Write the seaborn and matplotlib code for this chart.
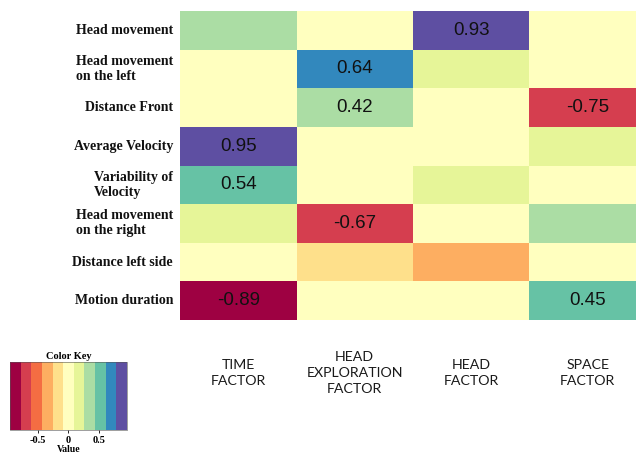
import numpy as np
import pandas as pd
import matplotlib
matplotlib.use("Agg")
import matplotlib.pyplot as plt
import seaborn as sns

# Factor loadings of the behavioural variables
variables = [
    "Head movement",
    "Head movement\non the left",
    "Distance Front",
    "Average Velocity",
    "Variability of\nVelocity",
    "Head movement\non the right",
    "Distance left side",
    "Motion duration",
]
factors = ["TIME\nFACTOR", "HEAD\nEXPLORATION\nFACTOR", "HEAD\nFACTOR", "SPACE\nFACTOR"]

time_factor = [0.35, 0.05, 0.01, 0.95, 0.54, 0.16, -0.05, -0.89]
head_exploration_factor = [0.03, 0.64, 0.42, 0.04, 0.02, -0.67, -0.18, 0.07]
head_factor = [0.93, 0.17, 0.06, -0.03, 0.18, 0.05, -0.35, -0.04]
space_factor = [0.02, -0.02, -0.75, 0.15, 0.06, 0.33, 0.03, 0.45]

# Only salient loadings are printed in the cells
label_threshold = 0.4

loadings = pd.DataFrame(
    np.column_stack([time_factor, head_exploration_factor, head_factor, space_factor]),
    index=variables,
    columns=factors,
)
annot = loadings.map(lambda v: f"{v:.2f}" if abs(v) >= label_threshold else "")

# 11-step ColorBrewer Spectral key
cmap = matplotlib.colormaps["Spectral"].resampled(11)

fig = plt.figure(figsize=(6.36, 4.55), dpi=100)
ax = fig.add_axes([180 / 636, 1 - 320 / 455, 466 / 636, 309 / 455])
cax = fig.add_axes([10 / 636, 1 - 430 / 455, 117 / 636, 68 / 455])

sns.heatmap(
    loadings,
    ax=ax,
    cmap=cmap,
    vmin=-0.95,
    vmax=0.95,
    annot=annot,
    fmt="",
    annot_kws={"fontsize": 13.5, "family": "Liberation Sans", "color": "#111111"},
    cbar_ax=cax,
    cbar_kws={"orientation": "horizontal", "ticks": [-0.5, 0, 0.5]},
)

# Row labels: bold serif, right-aligned block with left-aligned lines
ax.set_yticklabels(variables, rotation=0)
ax.tick_params(axis="y", length=0, pad=5)
for lbl in ax.get_yticklabels():
    lbl.set_fontfamily("Liberation Serif")
    lbl.set_fontweight("bold")
    lbl.set_fontsize(10)
    lbl.set_multialignment("left")
    lbl.set_color("#111111")

# Column labels below the grid
ax.set_xticklabels(factors, rotation=0)
ax.tick_params(axis="x", length=0, pad=38)
for lbl in ax.get_xticklabels():
    lbl.set_fontfamily("Lato")
    lbl.set_fontsize(10.2)
    lbl.set_verticalalignment("center")
    lbl.set_linespacing(1.4)
    lbl.set_color("#1a1a1a")
ax.set_xlabel("")
ax.set_ylabel("")

# Colour key
cax.set_title("Color Key", fontsize=7.5, fontweight="bold", family="Liberation Serif", pad=2)
cax.set_xticklabels(["-0.5", "0", "0.5"])
cax.tick_params(axis="x", length=2.5, width=0.6, pad=1.5, labelsize=7.5)
for lbl in cax.get_xticklabels():
    lbl.set_fontfamily("Liberation Serif")
    lbl.set_fontweight("bold")
cax.set_xlabel("Value", fontsize=7, fontweight="bold", family="Liberation Serif", labelpad=0.5)
for spine in cax.spines.values():
    spine.set_linewidth(0.4)
    spine.set_edgecolor("#555555")

fig.savefig("out.png", dpi=100)
